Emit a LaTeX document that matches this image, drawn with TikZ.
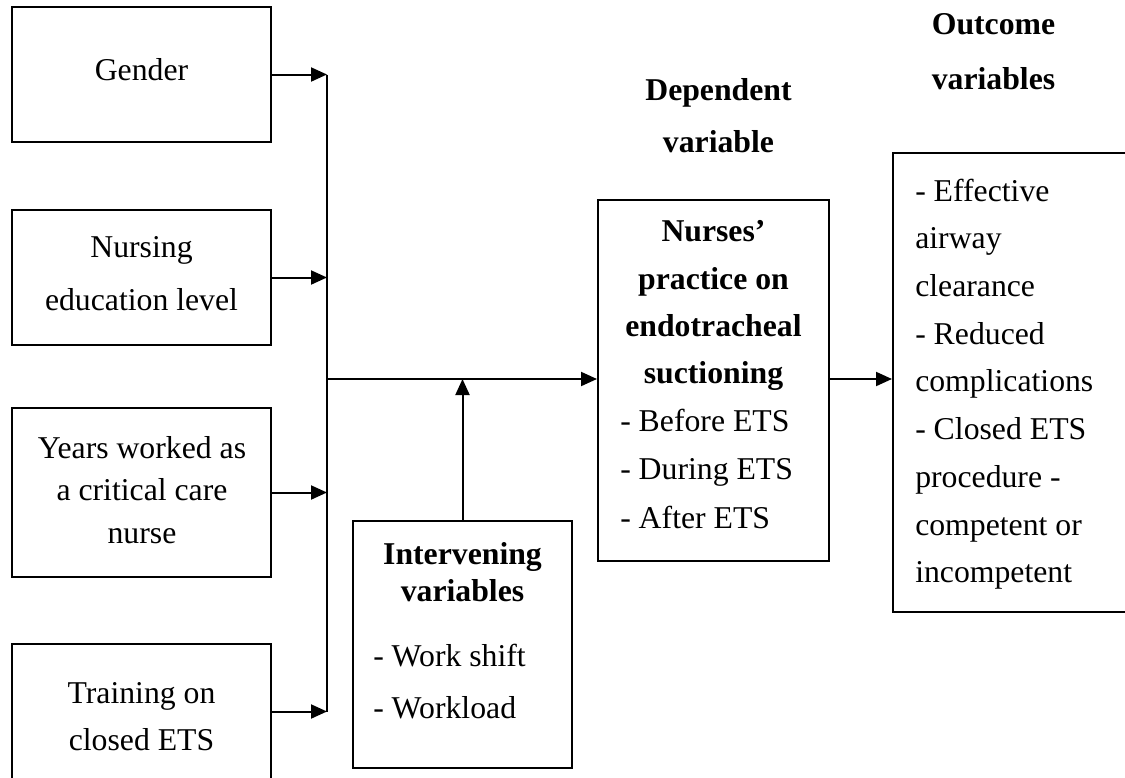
\documentclass[tikz,border=0pt]{standalone}
\usepackage{fontspec}
\setmainfont{Liberation Serif}
\usetikzlibrary{arrows.meta}
\newcommand\ctrtext[2]{\parbox[t]{260pt}{\centering\fontsize{23.8pt}{#1}\selectfont #2}}
\newcommand\lfttext[2]{\parbox[t]{180pt}{\raggedright\fontsize{23.8pt}{#1}\selectfont #2}}
\begin{document}
\begin{tikzpicture}[x=0.75pt,y=-0.75pt,
  box/.style={draw, line width=1.5pt, inner sep=0pt, fill=none},
  txt/.style={inner sep=0pt, anchor=base},
  ltxt/.style={inner sep=0pt, anchor=base west},
  conn/.style={line width=1.5pt},
  arr/.style={line width=1.5pt, -{Triangle[length=12pt,width=10.5pt]}}]
\useasboundingbox (0,0) rectangle (1125,778);
\clip (0,0) rectangle (1125,778);
\fill[white] (0,0) rectangle (1125,778);

% boxes
\node[box, minimum width=194.25pt, minimum height=101.25pt] (gender) at (141.5,74.5) {};
\node[box, minimum width=194.25pt, minimum height=101.25pt] (nursing) at (141.5,277.5) {};
\node[box, minimum width=194.25pt, minimum height=126.75pt] (years) at (141.5,492.5) {};
\node[box, minimum width=194.25pt, minimum height=102pt] (training) at (141.5,711.5) {};
\node[box, minimum width=164.25pt, minimum height=185.25pt] (int) at (462.5,644.5) {};
\node[box, minimum width=173.25pt, minimum height=270.75pt] (dep) at (713.5,380.5) {};
\node[box, minimum width=185.25pt, minimum height=344.25pt] (out) at (1016.5,382.5) {};

% texts
\node[txt] (genderT) at (141.5,80) {\ctrtext{36pt}{Gender}};
\node[txt] (nursingT) at (141.5,257) {\ctrtext{39.75pt}{Nursing\\education level}};
\node[txt] (yearsT) at (142,458) {\ctrtext{32pt}{Years worked as\\a critical care\\nurse}};
\node[txt] (trainingT) at (141.5,703.3) {\ctrtext{35.25pt}{Training on\\closed ETS}};
\node[txt] (intT) at (462.5,564) {\ctrtext{28.3pt}{\bfseries Intervening\\variables}};
\node[ltxt] (intL) at (373,666.7) {\lfttext{38.8pt}{- Work shift\\- Workload}};
\node[txt] (depT) at (713.5,241.7) {\ctrtext{35.5pt}{\bfseries Nurses’\\practice on\\endotracheal\\suctioning}};
\node[ltxt] (depL) at (620,431.7) {\lfttext{36.2pt}{- Before ETS\\- During ETS\\- After ETS}};
\node[ltxt] (outL) at (915,201) {\lfttext{35.8pt}{- Effective\\airway\\clearance\\- Reduced\\complications\\- Closed ETS\\procedure -\\competent or\\incompetent}};
\node[txt] (depH) at (718.5,100) {\ctrtext{39pt}{\bfseries Dependent\\variable}};
\node[txt] (outH) at (993.5,35) {\ctrtext{41.25pt}{\bfseries Outcome\\variables}};

% connectors
\coordinate (b1) at (327,74.5);
\coordinate (b4) at (327,711.5);
\coordinate (m) at (327,379);
\draw[conn] (b1) -- (b4);
\draw[arr] (gender.east) -- (b1);
\draw[arr] (nursing.east) -- (nursing.east -| b1);
\draw[arr] (years.east) -- (years.east -| b1);
\draw[arr] (training.east) -- (b4);
\draw[arr] (m) -- (m -| dep.west);
\draw[arr] (int.north) -- (int.north |- m);
\draw[arr] (dep.east |- m) -- (m -| out.west);
\end{tikzpicture}
\end{document}
